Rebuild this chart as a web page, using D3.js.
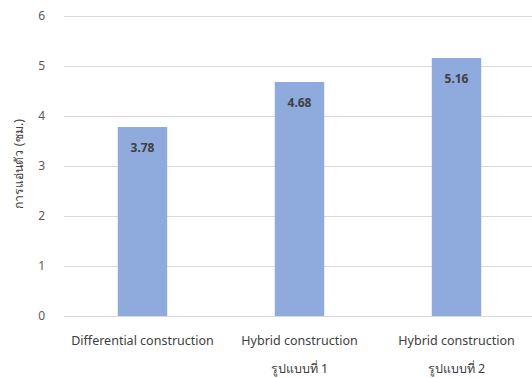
<!DOCTYPE html>
<html><head><meta charset="utf-8">
<script src="https://cdn.jsdelivr.net/npm/d3@7"></script>
<style>body{margin:0;background:#fff}svg{display:block}text{font-family:"Noto Sans","DejaVu Sans",sans-serif}</style>
</head><body><svg id="c" width="532" height="378"></svg>
<script>
const categories = ["Differential construction", "Hybrid construction\nรูปแบบที่ 1", "Hybrid construction\nรูปแบบที่ 2"];
const values = [3.78, 4.68, 5.16];
const yTicks = [0, 1, 2, 3, 4, 5, 6];
const yLabel = "การแอ่นตัว (ซม.)";

const svg = d3.select("#c");
const x = d3.scaleBand().domain(categories).range([64, 535]).paddingInner(0.685).paddingOuter(0.3425);
const y = d3.scaleLinear().domain([0, 6]).range([316, 16]);

// gridlines
svg.append("g").selectAll("line").data(yTicks).join("line")
  .attr("x1", 64).attr("x2", 532)
  .attr("y1", d => y(d) + 0.5).attr("y2", d => y(d) + 0.5)
  .attr("stroke", "#d9d9d9").attr("stroke-width", 1);

// y axis labels
const yAxis = d3.axisLeft(y).tickValues(yTicks).tickSize(0).tickPadding(0).tickFormat(d3.format("d"));
const gy = svg.append("g").attr("transform", "translate(45,0)").call(yAxis);
gy.select(".domain").remove();
gy.selectAll("text").attr("fill", "#595959").attr("font-size", 12);

// bars
svg.append("g").selectAll("rect").data(values).join("rect")
  .attr("x", (d, i) => x(categories[i])).attr("width", x.bandwidth())
  .attr("y", d => y(d)).attr("height", d => y(0) - y(d))
  .attr("fill", "#8faadc");

// value labels
svg.append("g").selectAll("text").data(values).join("text")
  .attr("x", (d, i) => x(categories[i]) + x.bandwidth() / 2)
  .attr("y", d => y(d) + 25)
  .attr("text-anchor", "middle").attr("font-size", 12).attr("font-weight", "bold")
  .attr("fill", "#404040").text(d => d.toFixed(2));

// x labels
const xg = svg.append("g");
categories.forEach(c => {
  const lines = c.split("\n");
  const t = xg.append("text").attr("x", x(c) + x.bandwidth() / 2).attr("y", 345)
    .attr("text-anchor", "middle").attr("font-size", 12.5).attr("fill", "#404040");
  lines.forEach((l, j) => t.append("tspan").attr("x", x(c) + x.bandwidth() / 2).attr("dy", j === 0 ? 0 : 28).text(l));
});

// y label
svg.append("text").attr("transform", "translate(23,164) rotate(-90)")
  .attr("text-anchor", "middle").attr("font-size", 12).attr("fill", "#404040")
  .attr("textLength", 90).attr("lengthAdjust", "spacingAndGlyphs").text(yLabel);
</script></body></html>
